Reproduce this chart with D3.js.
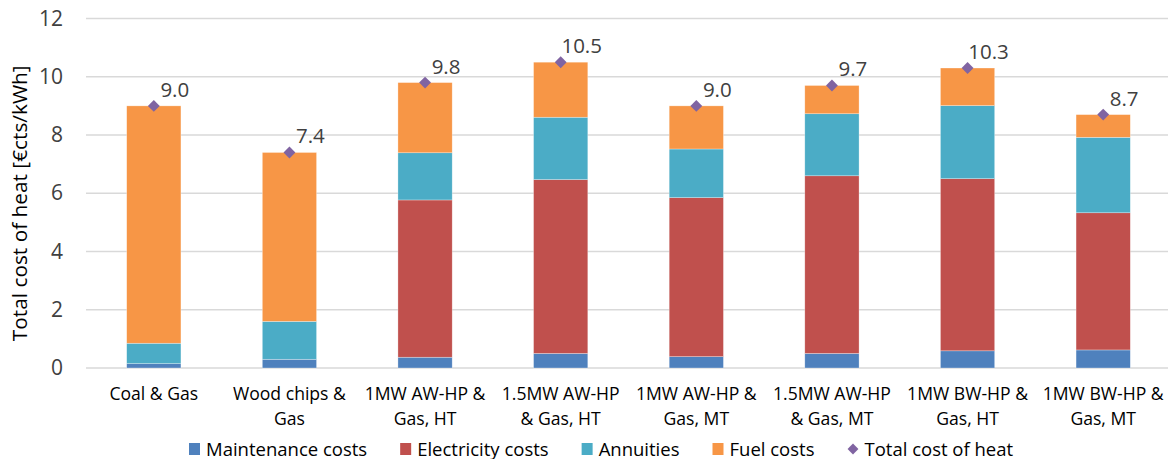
<!DOCTYPE html>
<html>
<head>
<meta charset="utf-8">
<script src="https://cdn.jsdelivr.net/npm/d3@7"></script>
<style>
  html, body { margin: 0; padding: 0; background: #fff; }
  svg { display: block; font-family: "Open Sans", "Noto Sans", sans-serif; }
</style>
</head>
<body>
<svg id="chart" width="1171" height="459"></svg>
<script>
// Heat supply options (line breaks mark where the axis labels wrap)
const categories = [
  "Coal & Gas",
  "Wood chips &\nGas",
  "1MW AW-HP &\nGas, HT",
  "1.5MW AW-HP\n& Gas, HT",
  "1MW AW-HP &\nGas, MT",
  "1.5MW AW-HP\n& Gas, MT",
  "1MW BW-HP &\nGas, HT",
  "1MW BW-HP &\nGas, MT"
];

// Cost components in €cts/kWh
const maintenance = [0.15, 0.30, 0.37, 0.50, 0.39, 0.50, 0.59, 0.62];
const electricity = [0.00, 0.00, 5.40, 5.97, 5.46, 6.10, 5.91, 4.71];
const annuities   = [0.70, 1.30, 1.62, 2.14, 1.67, 2.13, 2.51, 2.59];
const fuel        = [8.15, 5.80, 2.41, 1.89, 1.48, 0.97, 1.29, 0.78];
const totalCost   = [9.0, 7.4, 9.8, 10.5, 9.0, 9.7, 10.3, 8.7];

const yTicks = [0, 2, 4, 6, 8, 10, 12];

const seriesNames = ["Maintenance costs", "Electricity costs", "Annuities", "Fuel costs"];
const seriesColors = ["#4F81BD", "#C0504D", "#4BACC6", "#F79646"];
const totalName = "Total cost of heat";
const totalColor = "#8064A2";

const svg = d3.select("#chart");
const plot = { left: 86, right: 1171, top: 18.5, bottom: 368 };

const x = d3.scaleBand()
  .domain(categories)
  .range([plot.left, plot.right])
  .paddingInner(0.6)
  .paddingOuter(0.3);

const y = d3.scaleLinear().domain([0, 12]).range([plot.bottom, plot.top]);

// Gridlines
svg.append("g")
  .selectAll("line")
  .data(yTicks)
  .join("line")
  .attr("x1", plot.left)
  .attr("x2", 1168)
  .attr("y1", d => y(d))
  .attr("y2", d => y(d))
  .attr("stroke", "#D9D9D9")
  .attr("stroke-width", 1.5);

// Y axis labels
const yAxis = d3.axisLeft(y).tickValues(yTicks).tickSize(0).tickPadding(0).tickFormat(d3.format("d"));
const yg = svg.append("g").attr("transform", "translate(63,0)").call(yAxis);
yg.select(".domain").remove();
yg.selectAll("text")
  .attr("font-size", 21)
  .attr("fill", "#404040")
  .attr("font-family", "'Open Sans', sans-serif");

svg.append("text")
  .attr("transform", `translate(27,${(plot.top + plot.bottom) / 2 + 10}) rotate(-90)`)
  .attr("text-anchor", "middle")
  .attr("font-size", 20.8)
  .attr("fill", "#000")
  .text("Total cost of heat [€cts/kWh]");

// Stacked bars
const rows = categories.map((c, i) => ({
  cat: c,
  m: maintenance[i], e: electricity[i], a: annuities[i], f: fuel[i]
}));
const stack = d3.stack().keys(["m", "e", "a", "f"]);
const layers = stack(rows);

svg.append("g")
  .selectAll("g")
  .data(layers)
  .join("g")
  .attr("fill", (d, i) => seriesColors[i])
  .selectAll("rect")
  .data(d => d)
  .join("rect")
  .attr("x", d => x(d.data.cat))
  .attr("width", x.bandwidth())
  .attr("y", d => y(d[1]))
  .attr("height", d => Math.max(0, y(d[0]) - y(d[1])))
  .attr("stroke", "#fff")
  .attr("stroke-opacity", 0.5)
  .attr("stroke-width", 0.6);

// Total markers and value labels
const diamond = d3.symbol().type(d3.symbolDiamond2).size(90);
const totals = categories.map((c, i) => ({ cat: c, v: totalCost[i] }));

svg.append("g")
  .selectAll("path")
  .data(totals)
  .join("path")
  .attr("d", diamond)
  .attr("transform", d => `translate(${x(d.cat) + x.bandwidth() / 2},${y(d.v)})`)
  .attr("fill", totalColor);

svg.append("g")
  .selectAll("text")
  .data(totals)
  .join("text")
  .attr("x", d => x(d.cat) + x.bandwidth() / 2 + 21)
  .attr("y", d => y(d.v) - 9)
  .attr("text-anchor", "middle")
  .attr("font-size", 20.5)
  .attr("fill", "#404040")
  .text(d => d3.format(".1f")(d.v));

// Category labels
const xl = svg.append("g");
categories.forEach(c => {
  const t = xl.append("text")
    .attr("text-anchor", "middle")
    .attr("font-size", 17.6)
    .attr("fill", "#000");
  c.split("\n").forEach((line, k) => {
    t.append("tspan")
      .attr("x", x(c) + x.bandwidth() / 2)
      .attr("y", 400 + k * 25)
      .text(line);
  });
});

// Legend
const legendItems = seriesNames.map((n, i) => ({ name: n, color: seriesColors[i], type: "rect" }))
  .concat([{ name: totalName, color: totalColor, type: "diamond" }]);
const legend = svg.append("g");
let lx = 189;
const ly = 449;
legendItems.forEach(item => {
  if (item.type === "rect") {
    legend.append("rect")
      .attr("x", lx).attr("y", ly - 6)
      .attr("width", 11).attr("height", 12)
      .attr("fill", item.color);
  } else {
    legend.append("path")
      .attr("d", d3.symbol().type(d3.symbolDiamond2).size(75))
      .attr("transform", `translate(${lx + 5.5},${ly})`)
      .attr("fill", item.color);
  }
  const t = legend.append("text")
    .attr("x", lx + 17)
    .attr("y", ly + 6.5)
    .attr("font-size", 18.5)
    .attr("fill", "#000")
    .text(item.name);
  lx += 17 + t.node().getComputedTextLength() + 33;
});
</script>
</body>
</html>
